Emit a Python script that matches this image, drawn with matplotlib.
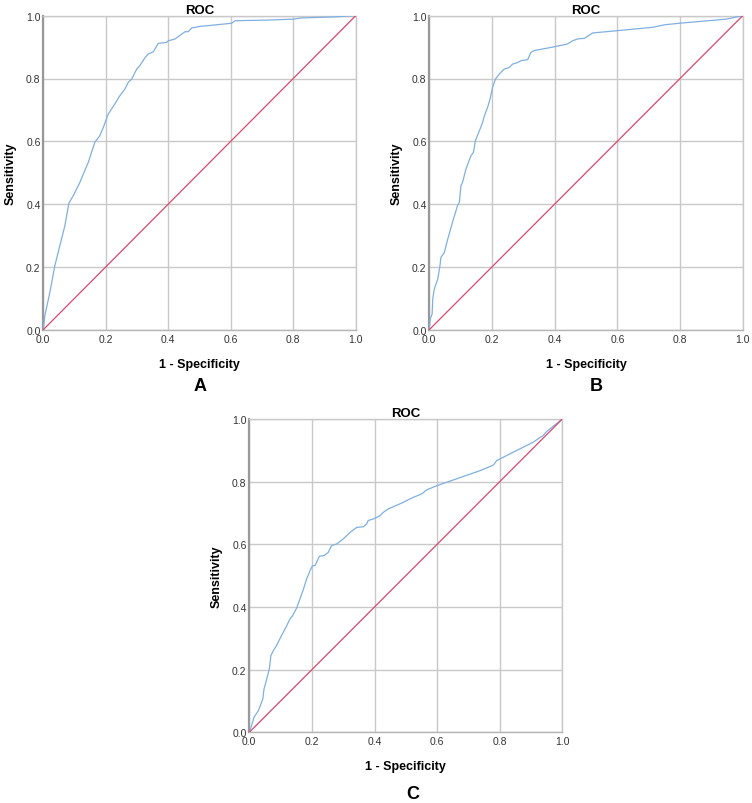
import numpy as np
import matplotlib.pyplot as plt

plt.rcParams['font.family'] = ['Liberation Sans', 'DejaVu Sans']

# ROC curve points (1 - specificity, sensitivity)
fpr_a = [0, 0.005, 0.021, 0.037, 0.053, 0.069, 0.082, 0.096, 0.117, 0.144, 0.165,
         0.181, 0.192, 0.208, 0.229, 0.245, 0.261, 0.272, 0.283, 0.299, 0.309,
         0.326, 0.336, 0.352, 0.368, 0.395, 0.400, 0.422, 0.438, 0.454, 0.464,
         0.475, 0.502, 0.544, 0.603, 0.614, 0.715, 0.800, 0.827, 0.928, 1.0]
tpr_a = [0, 0.045, 0.119, 0.204, 0.268, 0.331, 0.403, 0.427, 0.469, 0.533, 0.597,
         0.618, 0.644, 0.687, 0.719, 0.745, 0.766, 0.788, 0.798, 0.830, 0.841,
         0.867, 0.878, 0.885, 0.912, 0.915, 0.920, 0.926, 0.938, 0.949, 0.949,
         0.961, 0.966, 0.970, 0.976, 0.984, 0.986, 0.989, 0.993, 0.996, 1.0]

fpr_b = [0, 0.003, 0.009, 0.011, 0.016, 0.027, 0.034, 0.037, 0.048, 0.059, 0.074,
         0.090, 0.096, 0.101, 0.106, 0.117, 0.133, 0.141, 0.147, 0.160, 0.170,
         0.176, 0.186, 0.194, 0.202, 0.211, 0.223, 0.239, 0.255, 0.266, 0.282,
         0.293, 0.314, 0.324, 0.335, 0.399, 0.441, 0.457, 0.473, 0.495, 0.521,
         0.596, 0.713, 0.750, 0.798, 0.947, 1.0]
tpr_b = [0, 0.034, 0.050, 0.098, 0.130, 0.161, 0.204, 0.230, 0.246, 0.289, 0.342,
         0.395, 0.406, 0.459, 0.469, 0.512, 0.554, 0.565, 0.602, 0.634, 0.660,
         0.682, 0.708, 0.735, 0.772, 0.798, 0.814, 0.830, 0.835, 0.846, 0.851,
         0.857, 0.860, 0.883, 0.889, 0.901, 0.910, 0.920, 0.926, 0.928, 0.945,
         0.952, 0.963, 0.971, 0.976, 0.989, 1.0]

fpr_c = [0, 0.007, 0.015, 0.029, 0.043, 0.047, 0.053, 0.064, 0.069, 0.077, 0.087,
         0.103, 0.117, 0.130, 0.138, 0.151, 0.162, 0.173, 0.183, 0.194, 0.202,
         0.210, 0.224, 0.239, 0.252, 0.263, 0.279, 0.300, 0.322, 0.343, 0.364,
         0.375, 0.380, 0.396, 0.417, 0.428, 0.444, 0.481, 0.524, 0.551, 0.567,
         0.599, 0.662, 0.737, 0.780, 0.790, 0.843, 0.907, 0.929, 0.939, 0.950, 1.0]
tpr_c = [0, 0.021, 0.048, 0.069, 0.106, 0.138, 0.160, 0.202, 0.245, 0.261, 0.277,
         0.309, 0.335, 0.362, 0.372, 0.396, 0.426, 0.457, 0.489, 0.516, 0.532,
         0.532, 0.562, 0.564, 0.574, 0.596, 0.601, 0.617, 0.638, 0.654, 0.656,
         0.665, 0.676, 0.681, 0.691, 0.702, 0.713, 0.729, 0.750, 0.761, 0.774,
         0.787, 0.809, 0.835, 0.853, 0.867, 0.894, 0.926, 0.941, 0.947, 0.960, 1.0]

ref_line = [0, 1]
ticks = [0.0, 0.2, 0.4, 0.6, 0.8, 1.0]
panel_letters = ['A', 'B', 'C']

curve_color = '#7fb0e2'
ref_color = '#d9486e'
grid_color = '#c9c9c9'

fig = plt.figure(figsize=(7.52, 8.04), dpi=100)

# axes boxes in figure fractions (left, bottom, width, height)
boxes = [
    (43.3 / 752, 1 - 330.7 / 804, 312.4 / 752, 314 / 804),
    (429.3 / 752, 1 - 330.7 / 804, 313.4 / 752, 314 / 804),
    (249.3 / 752, 1 - 733.3 / 804, 313 / 752, 313.3 / 804),
]
curves = [(fpr_a, tpr_a), (fpr_b, tpr_b), (fpr_c, tpr_c)]
# panel letter positions in pixels
letter_pos = [(200, 387), (596, 387), (413, 795)]

for box, (fpr, tpr), letter, (lx, ly) in zip(boxes, curves, panel_letters, letter_pos):
    ax = fig.add_axes(box)
    ax.plot(fpr, tpr, color=curve_color, lw=0.9, zorder=3)
    ax.plot(ref_line, ref_line, color=ref_color, lw=0.9, zorder=3)
    ax.set_xlim(0, 1)
    ax.set_ylim(0, 1)
    ax.set_xticks(ticks)
    ax.set_yticks(ticks)
    ax.set_xticklabels([f'{t:.1f}' for t in ticks])
    ax.set_yticklabels([f'{t:.1f}' for t in ticks])
    ax.tick_params(length=0, labelsize=7.5, colors='#333333', pad=3)
    ax.tick_params(axis='y', pad=2)
    ax.grid(True, color=grid_color, lw=1.0)
    ax.set_axisbelow(True)
    for side in ['top', 'right']:
        ax.spines[side].set_color(grid_color)
        ax.spines[side].set_linewidth(1.0)
    ax.spines['left'].set_color('#999999')
    ax.spines['left'].set_linewidth(1.6)
    ax.spines['bottom'].set_color('#b5b5b5')
    ax.spines['bottom'].set_linewidth(1.0)
    ax.set_title('ROC', fontsize=9.5, fontweight='bold', pad=2)
    ax.set_xlabel('1 - Specificity', fontsize=9, fontweight='bold', labelpad=10)
    ax.set_ylabel('Sensitivity', fontsize=9, fontweight='bold', labelpad=7)
    fig.text(lx / 752, 1 - ly / 804, letter, fontsize=13, fontweight='bold',
             ha='center', va='center')

plt.savefig('out.png', dpi=100)
